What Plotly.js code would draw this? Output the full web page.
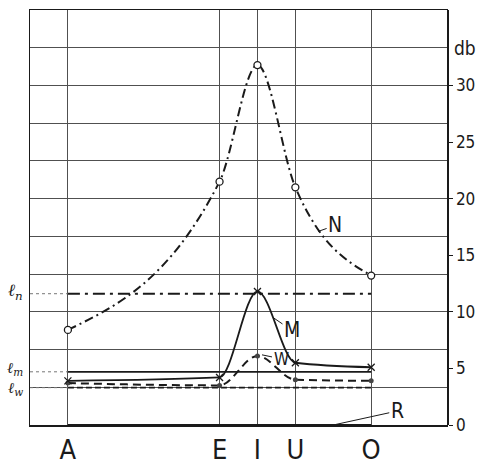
<!DOCTYPE html>
<html><head><meta charset="utf-8">
<script src="https://cdn.plot.ly/plotly-3.0.1.min.js"></script>
<style>html,body{margin:0;padding:0;background:#fff}</style>
</head><body><div id="chart" style="width:477px;height:465px"></div>
<script>
// ---- data ----
const vowels = ['A', 'E', 'I', 'U', 'O'];
const vowelPos = [1, 5, 6, 7, 9];
const seriesN = [8.4, 21.5, 31.8, 21.0, 13.2];
const seriesM = [3.9, 4.2, 11.8, 5.5, 5.1];
const seriesW = [3.7, 3.5, 6.1, 4.0, 3.9];
const seriesR = [0, 0, 0, 0, 0];
const levelLabels = ['ℓ<sub>n</sub>', 'ℓ<sub>m</sub>', 'ℓ<sub>w</sub>'];
const levelValues = [11.6, 4.7, 3.3];
const yTickVals = [0, 5, 10, 15, 20, 25, 30];
const yUnit = 'db';

// ---- styles ----
const ink = '#1a1a1a';
const grid = '#505050';
const font = 'Liberation Sans Narrow, DejaVu Sans Condensed, DejaVu Sans, sans-serif';
const yTop = 110 / 3;
const xFirst = vowelPos[0], xLast = vowelPos[vowelPos.length - 1];
const levelDash = ['12px,5px,3px,5px', 'solid', '6px,3px'];
const levelWidth = [2, 1.8, 1.6];

// smooth monotone (Steffen) cubic Bezier path through the data points, in data coordinates
function smoothPath(xs, ys) {
  const n = xs.length, h = [], d = [], m = new Array(n);
  for (let i = 0; i < n - 1; i++) { h.push(xs[i + 1] - xs[i]); d.push((ys[i + 1] - ys[i]) / h[i]); }
  for (let i = 1; i < n - 1; i++) {
    const p = (d[i - 1] * h[i] + d[i] * h[i - 1]) / (h[i - 1] + h[i]);
    m[i] = (Math.sign(d[i - 1]) + Math.sign(d[i])) *
      Math.min(Math.abs(d[i - 1]), Math.abs(d[i]), 0.5 * Math.abs(p)) || 0;
  }
  m[0] = (3 * d[0] - m[1]) / 2;
  m[n - 1] = (3 * d[n - 2] - m[n - 2]) / 2;
  let s = 'M' + xs[0] + ',' + ys[0];
  for (let i = 0; i < n - 1; i++) {
    const k = h[i] / 3;
    s += ' C' + (xs[i] + k) + ',' + (ys[i] + m[i] * k) + ' ' +
      (xs[i + 1] - k) + ',' + (ys[i + 1] - m[i + 1] * k) + ' ' + xs[i + 1] + ',' + ys[i + 1];
  }
  return s;
}

const traces = [];
levelValues.forEach((v, i) => {
  traces.push({x: [0, xFirst], y: [v, v], mode: 'lines', hoverinfo: 'skip',
    line: {color: '#777', width: 1, dash: '3px,3px'}, showlegend: false});
  traces.push({x: [xFirst, xLast], y: [v, v], mode: 'lines', hoverinfo: 'skip',
    line: {color: ink, width: levelWidth[i], dash: levelDash[i]}, showlegend: false});
});
traces.push({name: 'R', x: vowelPos, y: seriesR, yaxis: 'y2', mode: 'lines',
  line: {color: ink, width: 2}, showlegend: false});
traces.push({name: 'W', x: vowelPos, y: seriesW, mode: 'markers',
  marker: {symbol: 'circle', size: 5, color: '#444'}, showlegend: false});
traces.push({name: 'M', x: vowelPos, y: seriesM, mode: 'markers',
  marker: {symbol: 'x-thin-open', size: 7, color: ink, line: {width: 1.3, color: ink}}, showlegend: false});
traces.push({name: 'N', x: vowelPos, y: seriesN, mode: 'markers',
  marker: {symbol: 'circle', size: 7, color: '#fff', line: {width: 1.3, color: ink}}, showlegend: false});

const shapes = [
  {type: 'path', xref: 'x', yref: 'y', layer: 'between', path: smoothPath(vowelPos, seriesN),
   line: {color: ink, width: 2, dash: '9px,4px,2px,4px'}},
  {type: 'path', xref: 'x', yref: 'y', layer: 'between', path: smoothPath(vowelPos, seriesM),
   line: {color: ink, width: 1.8}},
  {type: 'path', xref: 'x', yref: 'y', layer: 'between', path: smoothPath(vowelPos, seriesW),
   line: {color: ink, width: 2, dash: '8px,5px'}}
];

const annFont = {family: font, size: 21, color: ink};
const annotations = [
  {x: 7.6, y: 17.1, text: 'N', showarrow: true, arrowhead: 0, arrowwidth: 1, arrowcolor: ink, ax: 17, ay: -6, font: annFont},
  {x: 6.41, y: 9.5, text: 'M', showarrow: true, arrowhead: 0, arrowwidth: 1, arrowcolor: ink, ax: 19, ay: 13, font: annFont},
  {x: 6.12, y: 6.2, text: 'W', showarrow: true, arrowhead: 0, arrowwidth: 1, arrowcolor: ink, ax: 19, ay: 4, font: {family: font, size: 17, color: ink}},
  {x: 8.0, y: 0, text: 'R', showarrow: true, arrowhead: 0, arrowwidth: 1, arrowcolor: ink, ax: 64, ay: -14, font: annFont},
  {xref: 'paper', x: 1, xanchor: 'left', xshift: 5, y: 100 / 3, yanchor: 'middle', text: yUnit, showarrow: false,
   font: {family: font, size: 19, color: ink}}
];
const labelShift = [2, 3, -1];
const labelSize = [17, 15, 15];
levelValues.forEach((v, i) => {
  annotations.push({xref: 'paper', x: 0, xanchor: 'center', xshift: -15, y: v, yanchor: 'middle', yshift: labelShift[i],
    text: '<i>' + levelLabels[i] + '</i>', showarrow: false,
    font: {family: 'DejaVu Serif, Liberation Serif, serif', size: labelSize[i], color: ink}});
});

const layout = {
  width: 477, height: 465,
  margin: {l: 30, r: 30, t: 10, b: 40, pad: 0},
  paper_bgcolor: '#fff', plot_bgcolor: '#fff',
  showlegend: false,
  xaxis: {range: [0, 11], tickmode: 'array', tickvals: vowelPos, ticktext: vowels,
    showgrid: true, gridcolor: grid, gridwidth: 1, zeroline: false,
    showline: true, mirror: true, linecolor: ink, linewidth: 1.5, ticks: '',
    tickfont: {family: font, size: 27, color: ink}, ticklabelstandoff: 0, fixedrange: true},
  yaxis: {range: [0, yTop], tick0: 0, dtick: 10 / 3, showgrid: true, gridcolor: grid, gridwidth: 1,
    showticklabels: false, ticks: '', zeroline: false, showline: true, mirror: true,
    linecolor: ink, linewidth: 1.2, fixedrange: true},
  yaxis2: {overlaying: 'y', side: 'right', range: [0, yTop], tickmode: 'array', tickvals: yTickVals,
    ticks: 'outside', ticklen: 4, tickcolor: ink, tickwidth: 1, showgrid: false, zeroline: false,
    showline: true, linecolor: ink, linewidth: 1.5,
    tickfont: {family: font, size: 17, color: ink}, fixedrange: true},
  shapes: shapes,
  annotations: annotations
};
Plotly.newPlot('chart', traces, layout, {staticPlot: true, displayModeBar: false});
</script></body></html>
